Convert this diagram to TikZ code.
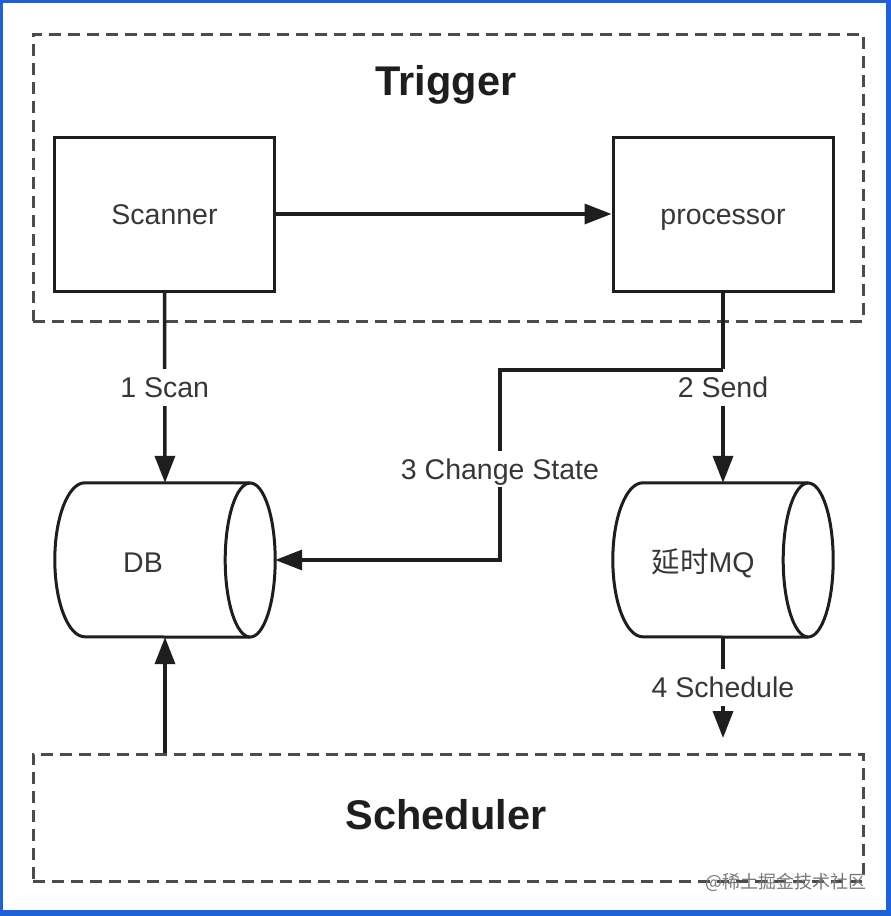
\documentclass[tikz,border=0pt]{standalone}
\usepackage{fontspec}
\setmainfont{Liberation Sans}
\newfontfamily\cjk{Noto Sans CJK SC}
\usetikzlibrary{arrows.meta,calc}
\definecolor{frameblue}{RGB}{30,96,214}
\definecolor{ink}{RGB}{30,30,30}
\definecolor{dashgray}{RGB}{75,75,75}
\definecolor{textgray}{RGB}{55,55,55}
\definecolor{wmgray}{RGB}{120,120,120}
\begin{document}
\begin{tikzpicture}[x=1pt,y=-1pt,
  txt/.style={font=\fontsize{28.5}{32}\selectfont, text=textgray, text height=20.4pt, text depth=0pt},
  box/.style={txt, draw=ink, line width=3pt, minimum width=220pt, minimum height=154pt, inner sep=0pt},
  cylbody/.style={minimum width=220pt, minimum height=154pt, inner sep=0pt},
  cylline/.style={draw=ink, line width=3pt},
  group/.style={draw=dashgray, line width=2.5pt, dash pattern=on 12pt off 7pt, inner sep=0pt, anchor=north west},
  conn/.style={draw=ink, line width=3.5pt, -{Triangle[length=27pt,width=20pt]}},
  lbl/.style={txt, fill=white, inner xsep=3pt, inner ysep=8pt},
  plain/.style={txt, inner sep=0pt},
  title/.style={font=\bfseries\fontsize{41.5}{46}\selectfont, text=ink, text height=29.7pt, text depth=0pt, inner sep=0pt}
]
\useasboundingbox (0,0) rectangle (891,916);
% outer blue frame
\fill[frameblue] (0,0) rectangle (891,916);
\fill[white] (3,3) rectangle (886,910);

% groups
\node[group, minimum width=830pt, minimum height=287pt] (trigger) at (32,33) {};
\node[title] (triggerT) at (446,81) {Trigger};
\node[group, minimum width=830pt, minimum height=127pt] (sched) at (32,753) {};
\node[title] (schedT) at (446,815) {Scheduler};

% boxes
\node[box] (scanner) at (164.5,214) {Scanner};
\node[box] (proc) at (723,214) {processor};

% cylinders
\node[cylbody] (db) at (165,560) {};
\draw[cylline] ([xshift=-25pt]db.north east) -- ([xshift=30pt]db.north west)
  arc[start angle=90, end angle=270, x radius=30pt, y radius=77pt]
  -- ([xshift=-25pt]db.south east);
\draw[cylline] ([xshift=-25pt]db.east) ellipse [x radius=25pt, y radius=77pt];
\node[plain] (dbT) at (143,562) {DB};

\node[cylbody] (mq) at (723,560) {};
\draw[cylline] ([xshift=-25pt]mq.north east) -- ([xshift=30pt]mq.north west)
  arc[start angle=90, end angle=270, x radius=30pt, y radius=77pt]
  -- ([xshift=-25pt]mq.south east);
\draw[cylline] ([xshift=-25pt]mq.east) ellipse [x radius=25pt, y radius=77pt];
\node[plain] (mqT) at (703,562) {{\cjk 延时}MQ};

% connectors
\draw[conn] (scanner.east) -- (proc.west);
\draw[conn] (scanner.south) -- (db.north) node[lbl, midway] {1 Scan};
\draw[conn] (proc.south) -- (mq.north) node[lbl, midway] {2 Send};
\coordinate (cs) at (723,370);
\coordinate (bend) at (500,370);
\draw[conn] (cs) -- (bend) |- (db.east) node[lbl, pos=0.26] {3 Change State};
\coordinate (schedIn) at (723,738);
\draw[conn] (mq.south) -- (schedIn) node[lbl, midway] {4 Schedule};
\draw[conn] (db.south |- sched.north) -- (db.south);

% source mark
\node[font=\cjk\fontsize{18}{22}\selectfont, text=wmgray, inner sep=0pt] (src) at (786,882) {@稀土掘金技术社区};
\end{tikzpicture}
\end{document}
